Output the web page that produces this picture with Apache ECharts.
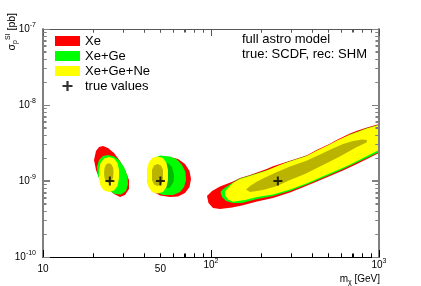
<!DOCTYPE html>
<html><head><meta charset="utf-8">
<script src="https://cdn.jsdelivr.net/npm/echarts@6/dist/echarts.min.js"></script>
<style>html,body{margin:0;padding:0;background:#fff}#c{width:421px;height:286px}</style>
</head><body><div id="c"></div>
<script>
// ---- data: contour vertices [mass GeV, sigma pb] ----
const xe_25 = [[22.75,2.887e-9],[24.37,2.718e-9],[26.46,2.336e-9],[28.73,1.833e-9],[30.77,1.396e-9],[32.50,1.031e-9],[32.50,7.85e-10],[30.77,6.54e-10],[28.73,6.16e-10],[26.46,6.74e-10],[24.04,8.09e-10],[21.84,1.031e-9],[20.68,1.396e-9],[20.12,1.889e-9],[20.68,2.482e-9],[21.54,2.800e-9]];
const xeGe_25 = [[24.37,2.199e-9],[26.46,2.10e-9],[28.34,1.889e-9],[30.35,1.529e-9],[31.84,1.164e-9],[32.06,9.13e-10],[31.19,7.39e-10],[29.13,6.64e-10],[26.83,6.74e-10],[24.37,7.61e-10],[22.44,9.13e-10],[21.26,1.164e-9],[20.97,1.529e-9],[21.54,1.889e-9],[22.75,2.133e-9]];
const xeGeNe_25 = [[24.71,2.069e-9],[26.46,1.98e-9],[27.76,1.725e-9],[28.34,1.396e-9],[28.34,1.095e-9],[27.76,8.59e-10],[26.46,7.5e-10],[24.71,7.16e-10],[23.07,7.5e-10],[21.99,8.59e-10],[21.54,1.095e-9],[21.54,1.396e-9],[21.99,1.725e-9],[23.07,1.98e-9]];
const xeGeNeIn_25 = [[24.6,1.725e-9],[25.57,1.65e-9],[26.2,1.483e-9],[26.28,1.274e-9],[26.10,1.095e-9],[25.57,9.85e-10],[24.6,9.41e-10],[23.71,9.85e-10],[23.24,1.095e-9],[23.07,1.274e-9],[23.24,1.483e-9],[23.71,1.65e-9]];

const xe_50 = [[49.71,2.101e-9],[57.02,2.069e-9],[63.63,1.947e-9],[70.04,1.674e-9],[74.47,1.354e-9],[76.03,1.063e-9],[74.47,8.34e-10],[70.04,6.95e-10],[63.63,6.25e-10],[57.02,6.16e-10],[49.71,6.45e-10],[44.55,7.39e-10],[42.17,9.13e-10],[41.59,1.199e-9],[42.76,1.575e-9],[45.16,1.889e-9]];
const xeGe_50 = [[49.71,2.165e-9],[57.02,2.101e-9],[62.76,1.918e-9],[67.22,1.624e-9],[70.53,1.313e-9],[71.01,1.031e-9],[69.10,8.34e-10],[65.40,7.16e-10],[59.41,6.54e-10],[51.79,6.54e-10],[46.42,7.16e-10],[43.35,8.34e-10],[41.88,1.031e-9],[41.88,1.396e-9],[43.35,1.725e-9],[45.78,2.007e-9]];
const xeGeIn_50 = [[51.09,1.778e-9],[55.46,1.725e-9],[58.61,1.529e-9],[60.24,1.199e-9],[59.82,9.70e-10],[57.02,8.21e-10],[52.50,7.85e-10],[48.36,8.59e-10],[47.06,1.095e-9],[47.06,1.396e-9],[48.36,1.674e-9]];
const xeGeNe_50 = [[48.03,2.101e-9],[51.79,2.007e-9],[54.33,1.725e-9],[55.46,1.396e-9],[55.46,1.031e-9],[54.33,8.34e-10],[51.79,7.16e-10],[48.03,6.85e-10],[44.55,7.16e-10],[42.46,8.34e-10],[41.59,1.031e-9],[41.59,1.396e-9],[42.46,1.725e-9],[44.55,2.007e-9]];
const xeGeNeIn_50 = [[48.03,1.674e-9],[50.39,1.599e-9],[51.79,1.396e-9],[51.79,1.031e-9],[50.39,8.99e-10],[48.03,8.59e-10],[45.78,8.99e-10],[44.55,1.031e-9],[44.55,1.396e-9],[45.78,1.599e-9]];

const xe_250 = [[94.67,6.35e-10],[96.6,5.13e-10],[102.8,4.41e-10],[113.1,4.28e-10],[133.4,4.48e-10],[152.9,4.76e-10],[187.9,5.37e-10],[233.9,5.97e-10],[295.3,7.06e-10],[338.7,7.97e-10],[427.6,9.85e-10],[510.9,1.164e-9],[610.6,1.375e-9],[739.6,1.674e-9],[884.0,2.038e-9],[1000,2.336e-9],
  [1000,5.623e-9],[848.3,5.057e-9],[739.6,4.577e-9],[672.2,4.217e-9],[562.3,3.494e-9],[510.9,3.097e-9],[427.6,2.581e-9],[372.7,2.185e-9],[295.3,1.849e-9],[233.9,1.561e-9],[214.5,1.439e-9],[170.7,1.199e-9],[148.8,1.095e-9],[135.2,9.85e-10],[113.1,8.46e-10],[101.4,7.39e-10]];
const xeGe_250 = [[113.9,7.16e-10],[116.3,6.16e-10],[122.9,5.45e-10],[135.2,5.13e-10],[152.9,5.13e-10],[187.9,5.79e-10],[233.9,6.35e-10],[295.3,7.39e-10],[372.7,8.99e-10],[445.6,1.063e-9],[586.0,1.375e-9],[739.6,1.752e-9],[884.0,2.101e-9],[1000,2.408e-9],
  [1000,5.49e-9],[848.3,4.94e-9],[672.2,4.08e-9],[510.9,3.04e-9],[372.7,2.15e-9],[295.3,1.82e-9],[215.4,1.38e-9],[170.7,1.18e-9],[148.8,1.08e-9],[135.2,9.55e-10],[122.9,8.34e-10],[116.3,7.61e-10]];
const xeGeNe_250 = [[121.2,6.54e-10],[126.2,5.71e-10],[135.2,5.34e-10],[159.4,5.62e-10],[187.9,6.16e-10],[233.9,6.64e-10],[295.3,7.73e-10],[372.7,9.33e-10],[445.6,1.112e-9],[586.0,1.439e-9],[672.2,1.649e-9],[803.1,2.007e-9],[1000,2.558e-9],
  [1000,5.456e-9],[848.3,4.907e-9],[672.2,4.055e-9],[562.3,3.412e-9],[510.9,3.022e-9],[427.6,2.520e-9],[372.7,2.133e-9],[295.3,1.805e-9],[257.5,1.624e-9],[215.4,1.375e-9],[170.7,1.164e-9],[148.8,1.063e-9],[135.2,9.41e-10],[126.2,8.09e-10],[121.2,7.27e-10]];
const xeGeNeIn_250 = [[161.6,7.73e-10],[170.7,8.59e-10],[187.9,9.85e-10],[209.6,1.112e-9],[247.1,1.313e-9],[295.3,1.551e-9],[372.7,1.861e-9],[445.6,2.232e-9],[510.9,2.58e-9],[610.6,3.068e-9],[700.4,3.360e-9],[792.1,3.516e-9],[848.3,3.463e-9],
  [842.5,3.211e-9],[739.6,2.80e-9],[644.9,2.371e-9],[562.3,2.007e-9],[477.1,1.674e-9],[427.6,1.483e-9],[362.6,1.236e-9],[295.3,1.031e-9],[247.1,8.59e-10],[209.6,7.72e-10],[187.9,7.39e-10],[170.7,7.16e-10]];

const trueMass = [25, 50, 250];
const trueSigma = [1e-9, 1e-9, 1e-9];

const xTickLabels = [10, 50, 100, 1000];
const xMajorTicks = [10, 100, 1000];
const xMinorTicks = [20,30,40,50,60,70,80,90,200,300,400,500,600,700,800,900];
const yTickLabels = [1e-10, 1e-9, 1e-8, 1e-7];
const yMajorTicks = [1e-10, 1e-9, 1e-8, 1e-7];
const yMinorTicks = [2e-10,3e-10,4e-10,5e-10,6e-10,7e-10,8e-10,9e-10,2e-9,3e-9,4e-9,5e-9,6e-9,7e-9,8e-9,9e-9,2e-8,3e-8,4e-8,5e-8,6e-8,7e-8,8e-8,9e-8];

// ---- chart ----
const FONT = '"Liberation Sans", Arial, Helvetica, sans-serif';
const PLUS = 'path://M3.5,0h2v3.5h3.5v2h-3.5v3.5h-2v-3.5h-3.5v-2h3.5z';
const X_MIN = 10, X_MAX = 1000, Y_MIN = 1e-10, Y_MAX = 1e-7;
const chart = echarts.init(document.getElementById('c'));

function regionSeries(name, color, polys) {
  return {
    type: 'custom', name: name, coordinateSystem: 'cartesian2d', clip: true, silent: true, z: 1,
    itemStyle: {color: color},
    data: polys.map(p => p[0]),
    renderItem: function (params, api) {
      const pts = polys[params.dataIndex].map(p => api.coord(p));
      return {type: 'polygon', shape: {points: pts}, style: {fill: color}};
    }
  };
}

function xAxisDef(pos, color) {
  return {
    type: 'log', min: X_MIN, max: X_MAX, position: pos, z: 3,
    axisLine: {show: true, onZero: false, lineStyle: {color: color, width: 1}},
    axisTick: {show: true, inside: true, length: 7, customValues: xMajorTicks, lineStyle: {color: color, width: 1}},
    minorTick: {show: true, splitNumber: 9, length: 3.5, lineStyle: {color: color, width: 1}},
    axisLabel: (pos === 'bottom') ? {
      show: true, customValues: xTickLabels, margin: 0.5,
      formatter: function (v) {
        const r = Math.round(v);
        if (r === 100) return '{b|10}{s|2}';
        if (r === 1000) return '{b|10}{s|3}';
        return '{p|' + r + '}';
      },
      rich: {
        b: {fontSize: 10, lineHeight: 15, color: '#000'},
        s: {fontSize: 7, lineHeight: 6, verticalAlign: 'top', color: '#000'},
        p: {fontSize: 10, lineHeight: 23, color: '#000'}
      }
    } : {show: false},
    splitLine: {show: false}
  };
}
function yAxisDef(pos, color) {
  return {
    type: 'log', min: Y_MIN, max: Y_MAX, position: pos, z: 3,
    axisLine: {show: true, onZero: false, lineStyle: {color: color, width: 2}},
    axisTick: {show: true, inside: true, length: 7, customValues: yMajorTicks, lineStyle: {color: color, width: 1}},
    minorTick: {show: true, splitNumber: 9, length: 3.5, lineStyle: {color: color, width: 1}},
    axisLabel: (pos === 'left') ? {
      show: true, customValues: yTickLabels, margin: 7,
      formatter: function (v) { return '{b|10}{s|' + Math.round(Math.log10(v)) + '}'; },
      rich: {
        b: {fontSize: 10, lineHeight: 14, color: '#000'},
        s: {fontSize: 7, lineHeight: 7, verticalAlign: 'top', color: '#000'}
      }
    } : {show: false},
    splitLine: {show: false}
  };
}

const option = {
  animation: false,
  backgroundColor: '#fff',
  textStyle: {fontFamily: FONT},
  grid: {left: 43, right: 42, top: 29, bottom: 29},
  xAxis: [xAxisDef('bottom', '#000'), xAxisDef('top', '#555')],
  yAxis: [yAxisDef('left', '#808080'), yAxisDef('right', '#808080')],
  title: {
    text: 'full astro model\ntrue: SCDF, rec: SHM', left: 242, top: 32, padding: 0,
    textStyle: {fontSize: 13, fontWeight: 'normal', color: '#000', lineHeight: 15}
  },
  legend: {
    orient: 'vertical', left: 55, top: 34.5, padding: 0, itemWidth: 25, itemHeight: 10, itemGap: 2,
    selectedMode: false,
    textStyle: {fontSize: 13, color: '#000'},
    data: [
      {name: 'Xe', icon: 'rect'},
      {name: 'Xe+Ge', icon: 'rect'},
      {name: 'Xe+Ge+Ne', icon: 'rect'},
      {name: 'true values', icon: PLUS}
    ]
  },
  graphic: [
    {type: 'text', x: 380, y: 279, style: {
      text: '{n|m}{sub|χ}{n| [GeV]}', align: 'right', verticalAlign: 'middle',
      rich: {
        n: {fontSize: 10, lineHeight: 14, fill: '#000'},
        sub: {fontSize: 7, lineHeight: 7, verticalAlign: 'bottom', fill: '#000'}
      }}},
    {type: 'text', x: 12, y: 13, rotation: Math.PI / 2, style: {
      text: '{n|σ}{sub|p}{sup|SI}{n| [pb]}', align: 'right', verticalAlign: 'middle',
      rich: {
        n: {fontSize: 10.5, lineHeight: 14, fill: '#000'},
        sub: {fontSize: 7, lineHeight: 7, verticalAlign: 'bottom', fill: '#000'},
        sup: {fontSize: 7, lineHeight: 7, verticalAlign: 'top', fill: '#000'}
      }}}
  ],
  series: [
    regionSeries('Xe', '#ff0000', [xe_25, xe_50, xe_250]),
    regionSeries('Xe+Ge', '#00ff00', [xeGe_25, xeGe_50, xeGe_250]),
    regionSeries('Xe+Ge 68%', '#00bb00', [xeGeIn_50]),
    regionSeries('Xe+Ge+Ne', '#ffff00', [xeGeNe_25, xeGeNe_50, xeGeNe_250]),
    regionSeries('Xe+Ge+Ne 68%', '#bab400', [xeGeNeIn_25, xeGeNeIn_50, xeGeNeIn_250]),
    {
      type: 'scatter', name: 'true values', z: 2, silent: true,
      symbol: PLUS, symbolSize: 9, itemStyle: {color: '#000'},
      data: trueMass.map((m, i) => [m, trueSigma[i]])
    }
  ]
};
chart.setOption(option);

// Tick marks added straight to the renderer, positioned through the chart's own axis scales.
try {
  const zr = chart.getZr();
  const finder = {xAxisIndex: 0, yAxisIndex: 0};
  function addTicks(values, side, len, color) {
    values.forEach(function (v) {
      const p = chart.convertToPixel(finder, (side === 'b' || side === 't') ? [v, side === 'b' ? Y_MIN : Y_MAX] : [side === 'l' ? X_MIN : X_MAX, v]);
      if (!p || !isFinite(p[0]) || !isFinite(p[1])) return;
      let s;
      if (side === 'b' || side === 't') {
        const x = Math.floor(p[0]) + 0.5;
        s = {x1: x, y1: p[1], x2: x, y2: side === 'b' ? p[1] - len : p[1] + len};
      } else {
        const y = Math.floor(p[1]) + 0.5;
        s = {x1: p[0], y1: y, x2: side === 'l' ? p[0] + len : p[0] - len, y2: y};
      }
      zr.add(new echarts.graphic.Line({shape: s, style: {stroke: color, lineWidth: 1}, silent: true, z: 100, zlevel: 3}));
    });
  }
  addTicks(xMajorTicks, 'b', 7, '#000');
  addTicks(xMinorTicks, 'b', 3.5, '#000');
  addTicks(xMajorTicks, 't', 7, '#555');
  addTicks(xMinorTicks, 't', 3.5, '#555');
  addTicks(yMajorTicks, 'l', 7, '#808080');
  addTicks(yMinorTicks, 'l', 3.5, '#808080');
  addTicks(yMajorTicks, 'r', 7, '#808080');
  addTicks(yMinorTicks, 'r', 3.5, '#808080');
  zr.refreshImmediately();
} catch (e) {}
</script>
</body></html>
